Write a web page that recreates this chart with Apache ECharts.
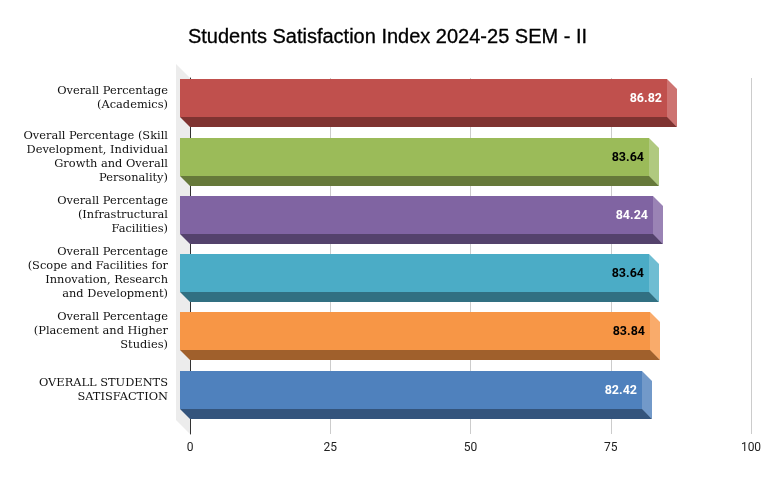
<!DOCTYPE html>
<html><head><meta charset="utf-8">
<style>html,body{margin:0;padding:0;background:#fff}#c{width:775px;height:478px}</style>
<script src="https://cdn.jsdelivr.net/npm/echarts@6/dist/echarts.min.js"></script>
</head><body><div id="c"></div>
<script>
const titleText = 'Students Satisfaction Index 2024-25 SEM - II';
const categories = [
  'Overall Percentage\n(Academics)',
  'Overall Percentage (Skill\nDevelopment, Individual\nGrowth and Overall\nPersonality)',
  'Overall Percentage\n(Infrastructural\nFacilities)',
  'Overall Percentage\n(Scope and Facilities for\nInnovation, Research\nand Development)',
  'Overall Percentage\n(Placement and Higher\nStudies)',
  'OVERALL STUDENTS\nSATISFACTION'
];
const values = [86.82, 83.64, 84.24, 83.64, 83.84, 82.42];
const frontColors = ['#c0504d','#9bbb59','#8064a2','#4bacc6','#f79646','#4f81bd'];
const bottomColors = ['#7f3331','#66793a','#54426c','#317082','#a0602c','#34547c'];
const sideColors = ['#cd7371','#b0c97f','#9a83b5','#6fbdd2','#f9ab6b','#7299c9'];
const labelColors = ['#ffffff','#000000','#ffffff','#000000','#000000','#ffffff'];
const depth = 10, faceH = 38;

const chart = echarts.init(document.getElementById('c'), null, {renderer:'canvas'});
chart.setOption({
  animation:false,
  backgroundColor:'#ffffff',
  title:{text:titleText,left:'center',top:22,itemGap:0,
    textStyle:{fontFamily:'Liberation Sans',fontSize:20,fontWeight:'normal',color:'#000',textBorderColor:'#000',textBorderWidth:0.3}},
  grid:[
    {left:190,right:24,top:78,height:356},
    {left:190,right:24,top:69.1,height:349.8}
  ],
  xAxis:[
    {gridIndex:0,type:'value',min:0,max:100,interval:25,
     axisLine:{show:false},axisTick:{show:false},
     axisLabel:{margin:8,fontFamily:'Roboto',fontSize:12,color:'#222'},
     splitLine:{show:true,lineStyle:{color:'#cccccc',width:1}}},
    {gridIndex:1,type:'value',min:0,max:100,show:false}
  ],
  yAxis:[
    {gridIndex:0,type:'value',min:0,max:1,
     axisLine:{show:true,onZero:false,lineStyle:{color:'#333',width:1}},
     axisTick:{show:false},axisLabel:{show:false},splitLine:{show:false}},
    {gridIndex:1,type:'category',inverse:true,data:categories,
     axisLine:{show:false},axisTick:{show:false},splitLine:{show:false},
     axisLabel:{margin:22,align:'right',fontFamily:'DejaVu Serif',fontSize:11.4,lineHeight:14,color:'#111'}}
  ],
  series:[
    {type:'custom',xAxisIndex:0,yAxisIndex:0,z:1,data:[[0,0]],silent:true,
     renderItem(params,api){
       const cs=params.coordSys;
       return {type:'polygon',shape:{points:[
         [cs.x-14,cs.y-14],[cs.x,cs.y],[cs.x,cs.y+cs.height],[cs.x-14,cs.y+cs.height-14]
       ]},style:{fill:'#ececec'}};
     }},
    {type:'custom',xAxisIndex:1,yAxisIndex:1,z:5,silent:true,
     data:values.map((v,i)=>[v,i]),
     encode:{x:0,y:1},
     renderItem(params,api){
       const i=params.dataIndex;
       const p=api.coord([api.value(0),i]);
       const o=api.coord([0,i]);
       const xl=Math.round(o[0]-depth), xr=Math.round(p[0]-depth);
       const t=Math.round(p[1]-faceH/2), b=t+faceH;
       return {type:'group',children:[
         {type:'polygon',shape:{points:[[xr-1,t],[xr,t],[xr+depth,t+depth],[xr+depth,b+depth],[xr-1,b]]},style:{fill:sideColors[i]}},
         {type:'rect',shape:{x:xl,y:t,width:xr-xl,height:faceH},style:{fill:frontColors[i]}},
         {type:'polygon',shape:{points:[[xl,b],[xr,b],[xr+depth,b+depth],[xl+depth,b+depth]]},style:{fill:bottomColors[i]}},
         {type:'text',style:{x:xr-5,y:t+20,text:values[i].toFixed(2),align:'right',verticalAlign:'middle',
           font:'700 12.5px Roboto',fill:labelColors[i]}}
       ]};
     }}
  ]
});
</script></body></html>
